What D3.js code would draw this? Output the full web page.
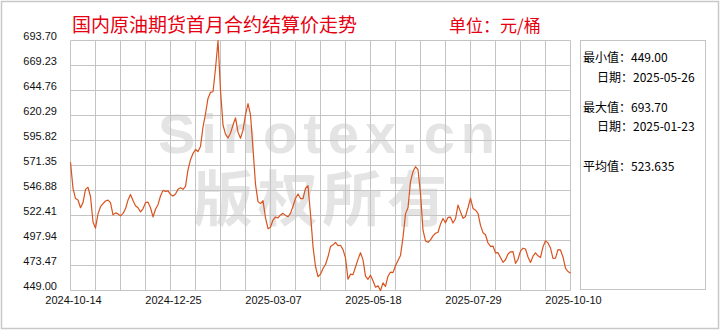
<!DOCTYPE html>
<html>
<head>
<meta charset="utf-8">
<script src="https://cdn.jsdelivr.net/npm/d3@7"></script>
<style>
  body { margin: 0; background: #fff; }
  svg { display: block; }
</style>
</head>
<body>
<div id="chart"></div>
<script>
// daily settlement, 2024-10-14 .. 2025-10-10
var prices = [
  574.5, 549, 539, 537.6, 530, 535, 548, 550, 541, 516,
  510, 524, 531, 534, 536.6, 537.5, 535, 523, 525, 524,
  522, 524.5, 529, 537.5, 543, 537, 532, 530, 526, 529,
  535, 535.5, 530, 521, 528.5, 533, 541.5, 547, 546, 546.5,
  543, 541.5, 543.5, 548, 549.5, 548, 551, 567, 577, 583,
  587, 585, 590, 609, 622, 637, 643, 643.5, 666, 693.7,
  645, 611, 602, 598.3, 603, 611, 618, 604, 598, 606,
  621, 632, 621, 588, 553, 536, 534, 537, 520, 509.5,
  511, 518, 521, 520, 523, 524.5, 522.5, 521.2, 524.5, 531.5,
  539, 543.5, 539, 539, 549, 551.5, 524, 492, 472.5, 462.5,
  465, 470.5, 474.5, 482, 492, 493.7, 496, 493, 493.3, 489,
  481, 460, 465, 464.5, 472, 479.5, 486, 479, 463, 460,
  464, 458.5, 452.2, 453.5, 449, 456.5, 453, 463, 467, 466.5,
  473.3, 478.3, 483.3, 501, 524, 530, 555.6, 565.4, 570.2, 567.4,
  544, 508, 497.5, 496.2, 498.5, 502.5, 505, 506, 514, 519.5,
  515.2, 520.5, 520.8, 515, 519.2, 532.7, 526, 519.7, 521.5, 530,
  539.5, 529.3, 527.6, 524.5, 512.7, 505.6, 503.6, 495.5, 492.1, 492.5,
  485.8, 486, 481.3, 476.6, 479.1, 484.8, 486.9, 487.1, 475.5, 479.6,
  487.6, 490.4, 489.6, 481.8, 476.5, 482.6, 485.9, 483, 481.3, 491.7,
  497.6, 495.6, 490.5, 480.4, 480.7, 489, 488.7, 481.8, 470.7, 467.6,
  465.9
];

var yTicks = [449.00, 473.47, 497.94, 522.41, 546.88, 571.35, 595.82, 620.29, 644.76, 669.23, 693.70];
var xLabels = ["2024-10-14", "2024-12-25", "2025-03-07", "2025-05-18", "2025-07-29", "2025-10-10"];

var statLabels = ["最小值：449.00", "日期：2025-05-26", "最大值：693.70", "日期：2025-01-23", "平均值：523.635"];

var titleText = "国内原油期货首月合约结算价走势";
var unitText = "单位：元/桶";

var width = 720, height = 330;
var plot = {left: 70.5, right: 570.5, top: 40.5, bottom: 290.5};
var gridColor = "#c4c4c4";

var svg = d3.select("#chart").append("svg")
    .attr("width", width)
    .attr("height", height);

// outer frame
svg.append("rect")
    .attr("x", 1.5).attr("y", 1.5)
    .attr("width", width - 3).attr("height", height - 3)
    .style("fill", "#fff")
    .style("stroke", "#c8c8c8")
    .style("stroke-width", 1.5);

// watermark (one block, two lines)
var wm = svg.append("text")
    .style("fill", "#e4e4e4");
wm.append("tspan")
    .attr("x", 158).attr("y", 153)
    .attr("textLength", 337).attr("lengthAdjust", "spacing")
    .style("font-family", "'Liberation Sans', Arial, sans-serif")
    .style("font-weight", "bold")
    .style("font-size", "56px")
    .text("Sinotex.cn");
wm.append("tspan")
    .attr("x", 193).attr("y", 221)
    .attr("textLength", 254).attr("lengthAdjust", "spacing")
    .style("font-family", "'Noto Sans CJK SC', sans-serif")
    .style("font-weight", "bold")
    .style("font-size", "60px")
    .text("版权所有");

var y = d3.scaleLinear()
    .domain([yTicks[0], yTicks[yTicks.length - 1]])
    .range([plot.bottom, plot.top]);

var x = d3.scaleLinear()
    .domain([0, prices.length - 1])
    .range([plot.left, plot.right]);

// 20 grid columns, a date label on every 4th
var col = d3.scaleLinear().domain([0, 20]).range([plot.left, plot.right]);
var xl = d3.scalePoint().domain(xLabels).range([plot.left, plot.right]);

var grid = svg.append("g");
grid.selectAll(".hline")
    .data(yTicks)
    .enter().append("line")
    .attr("x1", plot.left).attr("x2", plot.right)
    .attr("y1", function(d) { return y(d); })
    .attr("y2", function(d) { return y(d); })
    .style("stroke", gridColor);
grid.selectAll(".vline")
    .data(d3.range(21))
    .enter().append("line")
    .attr("x1", function(d) { return col(d); })
    .attr("x2", function(d) { return col(d); })
    .attr("y1", plot.top).attr("y2", plot.bottom)
    .style("stroke", gridColor);

// y labels
svg.selectAll(".ylab")
    .data(yTicks)
    .enter().append("text")
    .attr("x", 57)
    .attr("y", function(d) { return y(d) - 4.5; })
    .attr("text-anchor", "end")
    .attr("dominant-baseline", "central")
    .style("font-family", "'Liberation Sans', Arial, sans-serif")
    .style("font-size", "11px")
    .style("fill", "#111")
    .text(function(d) { return d.toFixed(2); });

// x labels
svg.selectAll(".xlab")
    .data(xLabels)
    .enter().append("text")
    .attr("x", function(d) { return xl(d) + 3; })
    .attr("y", 300)
    .attr("text-anchor", "middle")
    .attr("dominant-baseline", "central")
    .style("font-family", "'Liberation Sans', Arial, sans-serif")
    .style("font-size", "11px")
    .style("fill", "#111")
    .text(function(d) { return d; });

// price line
var line = d3.line()
    .x(function(d, i) { return x(i); })
    .y(function(d) { return y(d); });

svg.append("path")
    .datum(prices)
    .attr("d", line)
    .style("fill", "none")
    .style("stroke", "#d9531e")
    .style("stroke-width", 1.2)
    .style("stroke-linejoin", "round");

// title + unit
svg.append("text")
    .attr("x", 72).attr("y", 23)
    .attr("dominant-baseline", "central")
    .style("font-family", "'Noto Sans CJK SC', sans-serif")
    .style("font-size", "19px")
    .style("fill", "#e60012")
    .text(titleText);
svg.append("text")
    .attr("x", 449).attr("y", 24)
    .attr("dominant-baseline", "central")
    .style("font-family", "'Noto Sans CJK SC', sans-serif")
    .style("font-size", "17px")
    .style("fill", "#e60012")
    .text(unitText);

// stats panel
svg.append("rect")
    .attr("x", 580.5).attr("y", 40.5)
    .attr("width", 125).attr("height", 249)
    .style("fill", "none")
    .style("stroke", gridColor);

var statX = [583, 597, 583, 597, 583];
var statY = [56.7, 76.7, 106, 125.7, 165.5];
svg.selectAll(".stat")
    .data(statLabels)
    .enter().append("text")
    .attr("x", function(d, i) { return statX[i]; })
    .attr("y", function(d, i) { return statY[i]; })
    .attr("dominant-baseline", "central")
    .style("font-family", "'Noto Sans CJK SC', sans-serif")
    .style("font-size", "12px")
    .style("fill", "#000")
    .text(function(d) { return d; });
</script>
</body>
</html>
